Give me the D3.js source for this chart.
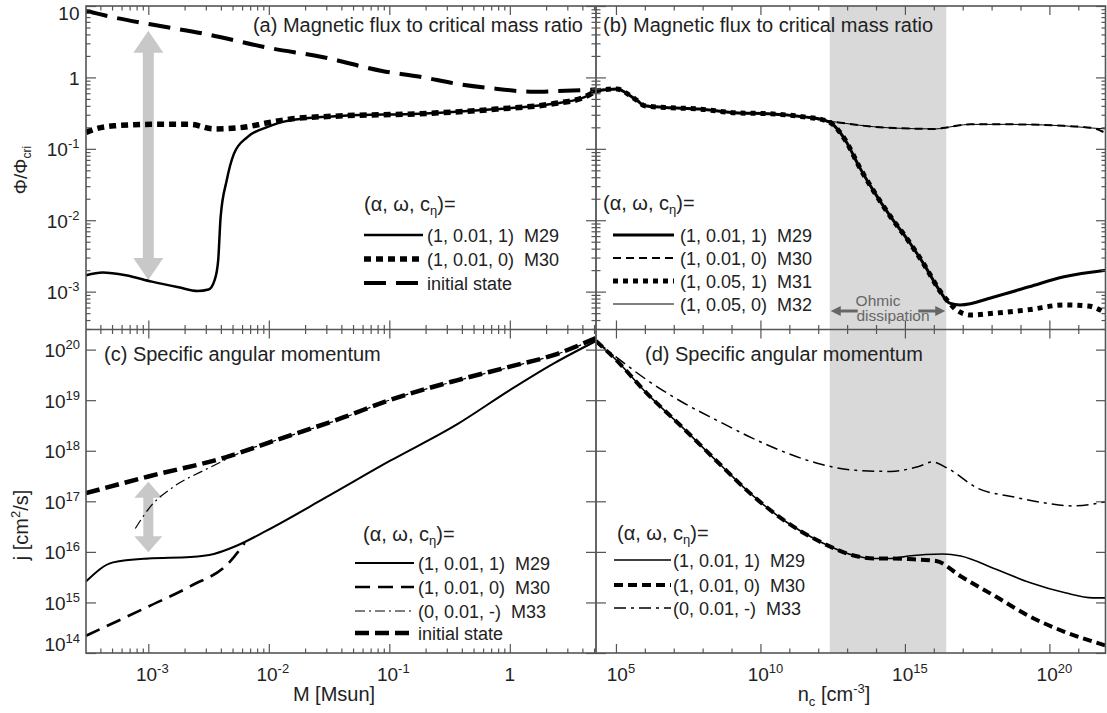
<!DOCTYPE html>
<html><head><meta charset="utf-8">
<script src="https://cdn.jsdelivr.net/npm/d3@7"></script>
<style>
body{margin:0;background:#fff}
svg{display:block}
text{font-family:'Liberation Sans',Arial,Helvetica,sans-serif;fill:#222}
</style>
</head><body>
<svg id="chart" width="1107" height="713"></svg>
<script>
// ---------------- DATA ----------------
const massTickValues = [1e-3, 1e-2, 1e-1, 1];
const massTickLabels = [["10","-3"],["10","-2"],["10","-1"],["1",""]];
const densTickValues = [1e5, 1e10, 1e15, 1e20];
const densTickLabels = [["10","5"],["10","10"],["10","15"],["10","20"]];
const fluxTickValues = [10, 1, 0.1, 0.01, 0.001];
const fluxTickLabels = [["10",""],["1",""],["10","-1"],["10","-2"],["10","-3"]];
const jTickValues = [1e20, 1e19, 1e18, 1e17, 1e16, 1e15, 1e14];
const jTickLabels = [["10","20"],["10","19"],["10","18"],["10","17"],["10","16"],["10","15"],["10","14"]];

// panel (a): Phi/Phi_cri vs M [Msun]
const aInitial = [[3.04e-4,8.6],[5.2e-4,6.9],[1.07e-3,5.5],[3.1e-3,4.0],[9.55e-3,2.63],[2.9e-2,1.9],[8.7e-2,1.23],[0.18,1.02],[0.37,0.81],[0.68,0.71],[1.58,0.63],[2.34,0.64],[5.19,0.68]];
const aM30 = [[3.04e-4,0.17],[3.3e-4,0.18],[5.2e-4,0.21],[1.07e-3,0.22],[2.24e-3,0.22],[3.47e-3,0.19],[6.17e-3,0.20],[9.55e-3,0.23],[1.48e-2,0.26],[4.17e-2,0.29],[0.178,0.31],[0.78,0.36],[2.34,0.43],[4.17,0.53],[5.19,0.65]];
const aM29 = [[3.04e-4,1.7e-3],[4.17e-4,1.86e-3],[6.5e-4,1.7e-3],[1.07e-3,1.38e-3],[1.78e-3,1.15e-3],[2.57e-3,1.02e-3],[3.16e-3,1.07e-3],[3.55e-3,1.45e-3],[3.8e-3,2.75e-3],[3.98e-3,1.1e-2],[4.47e-3,3.6e-2],[5.13e-3,8.5e-2],[6.6e-3,0.145],[9.55e-3,0.20],[1.48e-2,0.25],[4.17e-2,0.29],[0.178,0.31],[0.78,0.36],[2.34,0.43],[4.17,0.53],[5.19,0.65]];
const aArrow = [1e-3, 4.5, 1.45e-3];   // M, top value, bottom value

// panel (b): Phi/Phi_cri vs n_c
const bShared = [[2.04e4,0.65],[1.07e5,0.69],[3.2e5,0.55],[5.6e5,0.47],[9.8e5,0.40],[5.1e6,0.38],[8.1e7,0.36],[1.3e9,0.32],[2.0e10,0.31],[3.2e11,0.28],[1.7e12,0.25]];
const bIdeal = [[5.1e12,0.234],[8.1e13,0.204],[4.3e14,0.195],[1.2e16,0.19],[2.0e16,0.195],[1.9e17,0.22],[5.1e18,0.22],[3.2e20,0.21],[3.2e21,0.195]];
const bM30End = [[9.1e21,0.165]];
const bM32End = [[9.1e21,0.19]];
const bOhmic = [[3.0e12,0.224],[8.9e12,0.13],[2.7e13,0.055],[8.1e13,0.026],[3.2e14,0.0112],[1.3e15,5.2e-3],[5.1e15,2.24e-3],[1.55e16,1.05e-3],[3.5e16,6.9e-4]];
const bM29Tail = [[8.1e16,6.5e-4],[1.3e18,8.5e-4],[2.0e19,1.17e-3],[3.2e20,1.62e-3],[9.1e21,2.0e-3]];
const bM31Tail = [[6.2e16,5.5e-4],[1.9e17,4.7e-4],[1.3e18,5.0e-4],[2.0e19,5.6e-4],[3.2e20,6.5e-4],[2.2e21,6.3e-4],[9.1e21,5.0e-4]];
const ohmicRange = [2.5e12, 2.7e16];

// panel (c): j vs M
const cInitial = [[3.04e-4,1.45e17],[1e-3,3.1e17],[4.7e-3,7.8e17],[1e-2,1.45e18],[4.2e-2,4.6e18],[0.1,1.0e19],[0.37,2.5e19],[1,4.6e19],[2.34,7.9e19],[5.19,1.7e20]];
const cM33 = [[7.8e-4,2.9e16],[1.07e-3,8.5e16],[1.55e-3,1.8e17],[3.2e-3,4.6e17],[6.8e-3,1.07e18],[1e-2,1.45e18],[4.2e-2,4.5e18],[0.1,1.0e19],[0.37,2.45e19],[1,4.5e19],[2.34,7.8e19],[5.19,1.65e20]];
const cM30 = [[3.04e-4,2.2e14],[1e-3,8.3e14],[2.24e-3,2.1e15],[4.7e-3,6.2e15],[6.3e-3,1.5e16]];
const cM29 = [[3.04e-4,2.6e15],[5.1e-4,6.2e15],[1e-3,7.4e15],[2.24e-3,7.9e15],[3.5e-3,9.1e15],[5.4e-3,1.32e16],[9.5e-3,2.6e16],[2.9e-2,1.15e17],[0.1,6.2e17],[0.37,3.4e18],[1,1.58e19],[2.34,5.4e19],[5.19,1.48e20]];
const cArrow = [1e-3, 2.45e17, 9.8e15];

// panel (d): j vs n_c
const dShared = [[2.04e4,1.48e20],[1e5,6.3e19],[1.2e6,1.35e19],[2.0e7,2.9e18],[3.1e8,6.2e17],[5.0e9,1.35e17],[7.9e10,3.9e16],[1.26e12,1.55e16],[2.0e13,8.3e15],[8.3e13,7.4e15],[3.3e14,7.4e15]];
const dM29Tail = [[1.3e15,8.3e15],[2.1e16,9.1e15],[8.5e16,8.3e15],[1.35e18,4.6e15],[2.2e19,2.45e15],[3.5e20,1.55e15],[3.2e21,1.23e15],[9.1e21,1.23e15]];
const dM30Tail = [[1.3e15,7.2e15],[1.2e16,6.6e15],[8.5e16,3.3e15],[1.35e18,1.32e15],[2.2e19,5.2e14],[3.5e20,2.6e14],[9.1e21,1.4e14]];
const dM33 = [[2.04e4,1.48e20],[1e5,7.2e19],[1.2e6,2.5e19],[2.0e7,9.1e18],[3.1e8,4.0e18],[5.0e9,1.8e18],[7.9e10,9.1e17],[1.26e12,5.4e17],[2.0e13,4.1e17],[3.3e14,3.9e17],[3.0e15,4.9e17],[9.1e15,6.0e17],[2.8e16,4.6e17],[3.4e17,1.8e17],[5.4e18,1.23e17],[8.7e19,9.1e16],[6.0e20,8.1e16],[9.1e21,9.8e16]];

const legendA = ["(1, 0.01, 1)  M29","(1, 0.01, 0)  M30","initial state"];
const legendB = ["(1, 0.01, 1)  M29","(1, 0.01, 0)  M30","(1, 0.05, 1)  M31","(1, 0.05, 0)  M32"];
const legendC = ["(1, 0.01, 1)  M29","(1, 0.01, 0)  M30","(0, 0.01, -)  M33","initial state"];
const legendD = ["(1, 0.01, 1)  M29","(1, 0.01, 0)  M30","(0, 0.01, -)  M33"];

// ---------------- LAYOUT ----------------
const L=86, R=1106, T=6, B=653, MX=596, MY=329.5;
const svg = d3.select("#chart");
const xMass = d3.scaleLog().domain([3.04e-4,5.19]).range([L,MX]);
const xDens = d3.scaleLog().domain([2.04e4,9.1e21]).range([MX,R]);
const yFlux = d3.scaleLog().domain([2.95e-4,10]).range([MY,T]);
const yJ = d3.scaleLog().domain([1e14,2.5e20]).range([B,MY]);

// styles
const ST = {
  aM29:{w:2.5,d:null}, aM30:{w:5.5,d:"7 5"}, aInit:{w:4,d:"22 10"},
  bM29:{w:3,d:null}, bM30:{w:2,d:"8 5"}, bM31:{w:5,d:"5 5"}, bM32:{w:1,d:null},
  cM29:{w:2,d:null}, cM30:{w:2.7,d:"15 8"}, cM33:{w:1.2,d:"10 4 2 4"}, cInit:{w:4.5,d:"14 6"},
  dM29:{w:1.6,d:null}, dM30:{w:4,d:"9 5"}, dM33:{w:1.5,d:"12 5 3 5"}
};

const defs = svg.append("defs");
function clip(id,x0,y0,x1,y1){
  defs.append("clipPath").attr("id",id).append("rect").attr("x",x0).attr("y",y0).attr("width",x1-x0).attr("height",y1-y0);
}
clip("ca",L,T,MX,MY); clip("cb",MX,T,R,MY); clip("cc",L,MY,MX,B); clip("cd",MX,MY,R,B);

// shading (Ohmic dissipation)
[[T,MY],[MY,B]].forEach(([y0,y1])=>{
  svg.append("rect").attr("x",xDens(ohmicRange[0])).attr("y",y0)
    .attr("width",xDens(ohmicRange[1])-xDens(ohmicRange[0])).attr("height",y1-y0)
    .attr("fill","#d9d9d9");
});

// gray double arrows
function grayArrow(x, yTop, yBot, shaftW, headW, headL){
  const g = svg.append("g").attr("fill","#c8c8c8");
  g.append("rect").attr("x",x-shaftW/2).attr("y",yTop+headL-1).attr("width",shaftW).attr("height",yBot-yTop-2*headL+2);
  g.append("path").attr("d",`M${x},${yTop} L${x+headW/2},${yTop+headL} L${x-headW/2},${yTop+headL} Z`);
  g.append("path").attr("d",`M${x},${yBot} L${x+headW/2},${yBot-headL} L${x-headW/2},${yBot-headL} Z`);
}
grayArrow(xMass(aArrow[0]), yFlux(aArrow[1]), yFlux(aArrow[2]), 11, 30, 22);
grayArrow(xMass(cArrow[0]), yJ(cArrow[1]), yJ(cArrow[2]), 10, 28, 16);

// lines
function drawLine(clipId, xs, ys, data, st){
  const line = d3.line().x(d=>xs(d[0])).y(d=>ys(d[1])).curve(d3.curveMonotoneX);
  const p = svg.append("path").attr("clip-path",`url(#${clipId})`).attr("d",line(data))
    .attr("fill","none").attr("stroke","#000").attr("stroke-width",st.w)
    .attr("stroke-linejoin","round");
  if(st.d) p.attr("stroke-dasharray",st.d);
}
drawLine("ca",xMass,yFlux,aInitial,ST.aInit);
drawLine("ca",xMass,yFlux,aM30,ST.aM30);
drawLine("ca",xMass,yFlux,aM29,ST.aM29);

drawLine("cb",xDens,yFlux,bShared.concat(bIdeal,bM30End),ST.bM30);
drawLine("cb",xDens,yFlux,bShared.concat(bIdeal,bM32End),ST.bM32);
drawLine("cb",xDens,yFlux,bShared.concat(bOhmic,bM31Tail),ST.bM31);
drawLine("cb",xDens,yFlux,bShared.concat(bOhmic,bM29Tail),ST.bM29);

drawLine("cc",xMass,yJ,cInitial,ST.cInit);
drawLine("cc",xMass,yJ,cM33,ST.cM33);
drawLine("cc",xMass,yJ,cM30,ST.cM30);
drawLine("cc",xMass,yJ,cM29,ST.cM29);

drawLine("cd",xDens,yJ,dM33,ST.dM33);
drawLine("cd",xDens,yJ,dShared.concat(dM30Tail),ST.dM30);
drawLine("cd",xDens,yJ,dShared.concat(dM29Tail),ST.dM29);

// ---------------- TICKS ----------------
function logMinors(dom){
  const out=[]; const lo=Math.floor(Math.log10(dom[0])), hi=Math.ceil(Math.log10(dom[1]));
  for(let e=lo;e<=hi;e++) for(let k=2;k<=9;k++){ const v=k*Math.pow(10,e); if(v>=dom[0]&&v<=dom[1]) out.push(v); }
  return out;
}
function decadeMinors(dom, majors){
  const out=[]; const lo=Math.ceil(Math.log10(dom[0])), hi=Math.floor(Math.log10(dom[1]));
  for(let e=lo;e<=hi;e++){ const v=Math.pow(10,e); if(!majors.some(m=>Math.abs(Math.log10(m)-e)<1e-6)) out.push(v); }
  return out;
}
const tickColor="#555";
function ticks(axisFn, scale, vals, len, tx, ty){
  const g = svg.append("g").attr("transform",`translate(${tx},${ty})`)
    .call(axisFn(scale).tickValues(vals).tickSize(-len).tickFormat(""));
  g.select(".domain").remove();
  g.selectAll("line").attr("stroke",tickColor).attr("stroke-width",1.2);
}
const MAJ=9, MIN=4.5;
const massMin = logMinors(xMass.domain());
const densMin = decadeMinors(xDens.domain(), densTickValues);
const fluxMin = logMinors(yFlux.domain());
// panel a
ticks(d3.axisTop, xMass, massTickValues, MAJ, 0, T); ticks(d3.axisTop, xMass, massMin, MIN, 0, T);
ticks(d3.axisBottom, xMass, massTickValues, MAJ, 0, MY); ticks(d3.axisBottom, xMass, massMin, MIN, 0, MY);
ticks(d3.axisLeft, yFlux, fluxTickValues, MAJ+1, L, 0); ticks(d3.axisLeft, yFlux, fluxMin, MIN, L, 0);
ticks(d3.axisRight, yFlux, fluxTickValues, MAJ+1, MX, 0); ticks(d3.axisRight, yFlux, fluxMin, MIN, MX, 0);
// panel b
ticks(d3.axisTop, xDens, densTickValues, MAJ, 0, T); ticks(d3.axisTop, xDens, densMin, MIN, 0, T);
ticks(d3.axisBottom, xDens, densTickValues, MAJ, 0, MY); ticks(d3.axisBottom, xDens, densMin, MIN, 0, MY);
ticks(d3.axisLeft, yFlux, fluxTickValues, MAJ+1, MX, 0); ticks(d3.axisLeft, yFlux, fluxMin, MIN, MX, 0);
ticks(d3.axisRight, yFlux, fluxTickValues, MAJ+1, R, 0); ticks(d3.axisRight, yFlux, fluxMin, MIN, R, 0);
// panel c
ticks(d3.axisTop, xMass, massTickValues, MAJ, 0, MY); ticks(d3.axisTop, xMass, massMin, MIN, 0, MY);
ticks(d3.axisBottom, xMass, massTickValues, MAJ, 0, B); ticks(d3.axisBottom, xMass, massMin, MIN, 0, B);
ticks(d3.axisLeft, yJ, jTickValues, MAJ+1, L, 0);
ticks(d3.axisRight, yJ, jTickValues, MAJ+1, MX, 0);
// panel d
ticks(d3.axisTop, xDens, densTickValues, MAJ, 0, MY); ticks(d3.axisTop, xDens, densMin, MIN, 0, MY);
ticks(d3.axisBottom, xDens, densTickValues, MAJ, 0, B); ticks(d3.axisBottom, xDens, densMin, MIN, 0, B);
ticks(d3.axisLeft, yJ, jTickValues, MAJ+1, MX, 0);
ticks(d3.axisRight, yJ, jTickValues, MAJ+1, R, 0);

// frame
svg.append("rect").attr("x",L).attr("y",T).attr("width",R-L-0.5).attr("height",B-T)
  .attr("fill","none").attr("stroke","#555").attr("stroke-width",1.6);
svg.append("line").attr("x1",MX).attr("x2",MX).attr("y1",T).attr("y2",B).attr("stroke","#555").attr("stroke-width",1.8);
svg.append("line").attr("x1",L).attr("x2",R).attr("y1",MY).attr("y2",MY).attr("stroke","#555").attr("stroke-width",1.6);

// ---------------- TEXT ----------------
function supText(x,y,base,sup,anchor,size,supSize,rise){
  const t = svg.append("text").attr("x",x).attr("y",y).attr("text-anchor",anchor).attr("font-size",size);
  t.append("tspan").text(base);
  if(sup) t.append("tspan").attr("dy",-rise).attr("font-size",supSize).text(sup);
  return t;
}
// y tick labels
fluxTickValues.forEach((v,i)=>{
  const y = Math.max(yFlux(v)+7.5, T+13.5);
  supText(79.5,y,fluxTickLabels[i][0],fluxTickLabels[i][1],"end",19,13,8);
});
jTickValues.forEach((v,i)=>{
  const y = Math.min(yJ(v)+7.5, B-2);
  supText(80,y,jTickLabels[i][0],jTickLabels[i][1],"end",19,13,8);
});
// x tick labels
massTickValues.forEach((v,i)=>{
  supText(xMass(v)+ (massTickLabels[i][1]?4:0),681,massTickLabels[i][0],massTickLabels[i][1],"middle",19,13,8);
});
densTickValues.forEach((v,i)=>{
  supText(xDens(v)+5,681,densTickLabels[i][0],densTickLabels[i][1],"middle",19,13,8);
});

// axis titles
{
  const t = svg.append("text").attr("transform","translate(27,170) rotate(-90)").attr("text-anchor","middle").attr("font-size",19);
  t.append("tspan").text("Φ/Φ");
  t.append("tspan").attr("dy",4).attr("font-size",12).text("cri");
}
{
  const t = svg.append("text").attr("transform","translate(28,525) rotate(-90)").attr("text-anchor","middle").attr("font-size",20);
  t.append("tspan").text("j [cm");
  t.append("tspan").attr("dy",-8).attr("font-size",13).text("2");
  t.append("tspan").attr("dy",8).text("/s]");
}
svg.append("text").attr("x",334).attr("y",701).attr("text-anchor","middle").attr("font-size",20).text("M [Msun]");
{
  const t = svg.append("text").attr("x",834).attr("y",701).attr("text-anchor","middle").attr("font-size",20);
  t.append("tspan").text("n");
  t.append("tspan").attr("dy",5).attr("font-size",13).text("c");
  t.append("tspan").attr("dy",-5).text(" [cm");
  t.append("tspan").attr("dy",-8).attr("font-size",13).text("-3");
  t.append("tspan").attr("dy",8).text("]");
}

// panel titles
svg.append("text").attr("x",583).attr("y",32).attr("text-anchor","end").attr("font-size",20).text("(a) Magnetic flux to critical mass ratio");
svg.append("text").attr("x",603).attr("y",32).attr("font-size",20).text("(b) Magnetic flux to critical mass ratio");
svg.append("text").attr("x",104).attr("y",361).attr("font-size",20).text("(c) Specific angular momentum");
svg.append("text").attr("x",645).attr("y",361).attr("font-size",20).text("(d) Specific angular momentum");

// legends
function legend(x, yHead, rowYs, lineX0, lineX1, textX, labels, styles){
  const h = svg.append("text").attr("x",x).attr("y",yHead).attr("font-size",20);
  h.append("tspan").text("(α, ω, c");
  h.append("tspan").attr("dy",4).attr("font-size",13).text("η");
  h.append("tspan").attr("dy",-4).text(")=");
  labels.forEach((lab,i)=>{
    const st = styles[i];
    const ln = svg.append("line").attr("x1",lineX0).attr("x2",lineX1).attr("y1",rowYs[i]).attr("y2",rowYs[i])
      .attr("stroke","#000").attr("stroke-width",st.w);
    if(st.d) ln.attr("stroke-dasharray",st.d);
    svg.append("text").attr("x",textX).attr("y",rowYs[i]+6.5).attr("font-size",18)
      .style("white-space","pre").text(lab);
  });
}
legend(364,211,[235,259,283],364,423,427,legendA,[ST.aM29,ST.aM30,ST.aInit]);
legend(603,210,[235,258,281,304],613,674,680,legendB,[ST.bM29,ST.bM30,ST.bM31,ST.bM32]);
legend(363,541,[563,587,611,633],355,414,418,legendC,[ST.cM29,ST.cM30,ST.cM33,ST.cInit]);
legend(617,540,[560,585,608],614,671,673,legendD,[ST.dM29,ST.dM30,ST.dM33]);

// Ohmic dissipation annotation
{
  const xa = xDens(ohmicRange[0]), xb = xDens(ohmicRange[1]), ya = 311;
  const g = svg.append("g").attr("fill","#666").attr("stroke","#666");
  g.append("line").attr("x1",xa+8).attr("x2",xa+28).attr("y1",ya).attr("y2",ya).attr("stroke-width",3);
  g.append("line").attr("x1",xb-28).attr("x2",xb-8).attr("y1",ya).attr("y2",ya).attr("stroke-width",3);
  g.append("path").attr("stroke","none").attr("d",`M${xa+1},${ya} L${xa+11},${ya-5} L${xa+11},${ya+5} Z`);
  g.append("path").attr("stroke","none").attr("d",`M${xb-1},${ya} L${xb-11},${ya-5} L${xb-11},${ya+5} Z`);
  svg.append("text").attr("x",878).attr("y",306).attr("text-anchor","middle").attr("font-size",15.5).style("fill","#666").text("Ohmic");
  svg.append("text").attr("x",893).attr("y",321).attr("text-anchor","middle").attr("font-size",15.5).style("fill","#666").text("dissipation");
}
</script>
</body></html>
